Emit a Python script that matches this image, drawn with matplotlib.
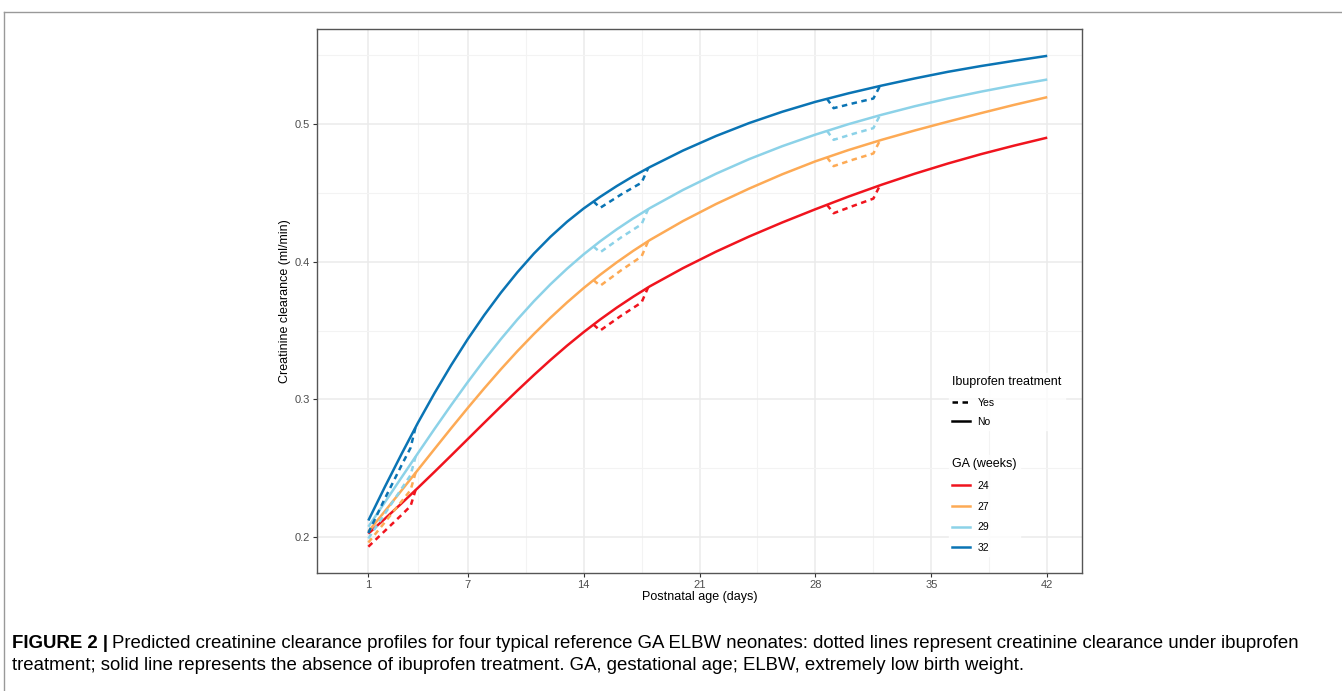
import matplotlib
matplotlib.use("Agg")
import matplotlib.pyplot as plt
from matplotlib.lines import Line2D

# postnatal age grid (days) for the solid "no ibuprofen" curves
days = [1, 2, 3, 4, 5, 6, 7, 8, 9, 10, 11, 12, 13, 14, 15, 16, 17, 18,
        20, 22, 24, 26, 28, 30, 32, 34, 36, 38, 40, 42]

cl_no_24 = [0.2025, 0.2133, 0.2244, 0.2358, 0.2474, 0.2592, 0.2711, 0.2830, 0.2948, 0.3064,
            0.3177, 0.3286, 0.3390, 0.3488, 0.3580, 0.3666, 0.3746, 0.3821,
            0.3953, 0.4073, 0.4183, 0.4285, 0.4381, 0.4473, 0.4559, 0.4639, 0.4713, 0.4781, 0.4843, 0.4901]
cl_no_27 = [0.2040, 0.2188, 0.2338, 0.2489, 0.2640, 0.2790, 0.2937, 0.3080, 0.3218, 0.3350,
            0.3475, 0.3593, 0.3704, 0.3808, 0.3905, 0.3995, 0.4079, 0.4157,
            0.4295, 0.4419, 0.4531, 0.4635, 0.4729, 0.4811, 0.4885, 0.4953, 0.5017, 0.5079, 0.5139, 0.5195]
cl_no_29 = [0.2075, 0.2253, 0.2432, 0.2610, 0.2786, 0.2958, 0.3125, 0.3285, 0.3437, 0.3580,
            0.3713, 0.3836, 0.3949, 0.4053, 0.4148, 0.4235, 0.4315, 0.4389,
            0.4521, 0.4639, 0.4745, 0.4839, 0.4923, 0.4999, 0.5067, 0.5129, 0.5185, 0.5235, 0.5281, 0.5323]
cl_no_32 = [0.2120, 0.2365, 0.2602, 0.2831, 0.3046, 0.3248, 0.3437, 0.3612, 0.3774, 0.3923,
            0.4059, 0.4181, 0.4290, 0.4386, 0.4471, 0.4549, 0.4621, 0.4687,
            0.4807, 0.4913, 0.5007, 0.5089, 0.5161, 0.5223, 0.5279, 0.5331, 0.5379, 0.5421, 0.5459, 0.5495]

# ibuprofen courses (dashed), three per profile
yes_days = [[1, 2, 3, 3.55, 3.85],
            [14.6, 15.0, 16.25, 17.5, 17.9],
            [28.7, 29.1, 30.3, 31.5, 31.9]]
cl_yes_24 = [[0.1930, 0.2045, 0.2160, 0.2225, 0.2341],
             [0.3543, 0.3500, 0.3606, 0.3704, 0.3814],
             [0.4413, 0.4352, 0.4406, 0.4458, 0.4555]]
cl_yes_27 = [[0.1960, 0.2108, 0.2258, 0.2341, 0.2466],
             [0.3866, 0.3825, 0.3936, 0.4038, 0.4149],
             [0.4758, 0.4694, 0.4742, 0.4786, 0.4881]]
cl_yes_29 = [[0.1990, 0.2170, 0.2350, 0.2450, 0.2583],
             [0.4110, 0.4068, 0.4175, 0.4272, 0.4382],
             [0.4950, 0.4885, 0.4929, 0.4970, 0.5064]]
cl_yes_32 = [[0.2030, 0.2280, 0.2520, 0.2648, 0.2797],
             [0.4437, 0.4391, 0.4487, 0.4574, 0.4680],
             [0.5183, 0.5115, 0.5151, 0.5185, 0.5276]]

ga_labels = ["24", "27", "29", "32"]
ga_colors = ["#F0141E", "#FDAA55", "#8CD2E8", "#0A74B4"]
x_ticks = [1, 7, 14, 21, 28, 35, 42]
y_ticks = [0.2, 0.3, 0.4, 0.5]

caption_1 = ("Predicted creatinine clearance profiles for four typical reference GA ELBW neonates: "
             "dotted lines represent creatinine clearance under ibuprofen")
caption_2 = ("treatment; solid line represents the absence of ibuprofen treatment. GA, gestational age; "
             "ELBW, extremely low birth weight.")

plt.rcParams["font.family"] = ["Liberation Sans", "DejaVu Sans"]
W, H = 1342, 691
fig = plt.figure(figsize=(W / 100, H / 100), dpi=100)
ax = fig.add_axes([317 / W, 1 - 573 / H, (1082 - 317) / W, (573 - 29) / H])

LW = 1.8
DASH = (2.2, 1.8)
solids = [cl_no_24, cl_no_27, cl_no_29, cl_no_32]
dashed = [cl_yes_24, cl_yes_27, cl_yes_29, cl_yes_32]
for col, ys, segs in zip(ga_colors, solids, dashed):
    ax.plot(days, ys, color=col, lw=LW, solid_capstyle="butt", solid_joinstyle="round", zorder=3)
    for xs, yseg in zip(yes_days, segs):
        ax.plot(xs, yseg, color=col, lw=LW, ls=(0, DASH), zorder=3)

ax.set_xlim(-2.1, 44.1)
ax.set_ylim(0.1739, 0.569)
ax.set_xticks(x_ticks)
ax.set_xticklabels([str(t) for t in x_ticks])
ax.set_yticks(y_ticks)
ax.set_yticklabels([f"{t:.1f}" for t in y_ticks])
ax.set_xticks([4, 10.5, 17.5, 24.5, 31.5, 38.5], minor=True)
ax.set_yticks([0.25, 0.35, 0.45, 0.55], minor=True)
ax.grid(which="major", color="#EBEBEB", lw=1.1, zorder=0)
ax.grid(which="minor", color="#F3F3F3", lw=0.8, zorder=0)
ax.tick_params(which="major", length=3, width=0.8, color="#333333", labelsize=8, labelcolor="#4D4D4D", pad=2)
ax.tick_params(which="minor", length=0)
for s in ax.spines.values():
    s.set_color("#555555")
    s.set_linewidth(1.0)
ax.set_xlabel("Postnatal age (days)", fontsize=9, labelpad=1)
ax.set_ylabel("Creatinine clearance (ml/min)", fontsize=9, labelpad=3)

# legends
leg_kw = dict(loc="upper left", bbox_transform=fig.transFigure, fontsize=7.5, title_fontsize=9,
              frameon=True, fancybox=False, edgecolor="white", handlelength=1.65,
              handletextpad=0.75, borderpad=0.3)
h_trt = [Line2D([], [], color="black", lw=LW, ls=(0, DASH)),
         Line2D([], [], color="black", lw=LW)]
leg1 = ax.legend(h_trt, ["Yes", "No"], title="Ibuprofen treatment",
                 bbox_to_anchor=(944 / W, 1 - 368 / H), labelspacing=0.9, **leg_kw)
leg1._legend_box.align = "left"
ax.add_artist(leg1)
h_ga = [Line2D([], [], color=c, lw=LW) for c in ga_colors]
leg2 = ax.legend(h_ga, ga_labels, title="GA (weeks)",
                 bbox_to_anchor=(944 / W, 1 - 450 / H), labelspacing=1.02, **leg_kw)
leg2._legend_box.align = "left"

# page frame
fig.add_artist(Line2D([4 / W, 1], [1 - 12 / H, 1 - 12 / H], color="#999999", lw=1.0))
fig.add_artist(Line2D([4 / W, 4 / W], [0, 1 - 12 / H], color="#999999", lw=1.0))

# caption
t_bold = fig.text(12 / W, 1 - 643 / H, "FIGURE 2 |", fontsize=13.4, fontweight="bold",
                  va="center", ha="left")
fig.canvas.draw()
bb = t_bold.get_window_extent()
fig.text((bb.x1 + 4) / W, 1 - 643 / H, caption_1, fontsize=13.4, va="center", ha="left")
fig.text(12 / W, 1 - 665 / H, caption_2, fontsize=13.4, va="center", ha="left")

fig.savefig("out.png", dpi=100)
